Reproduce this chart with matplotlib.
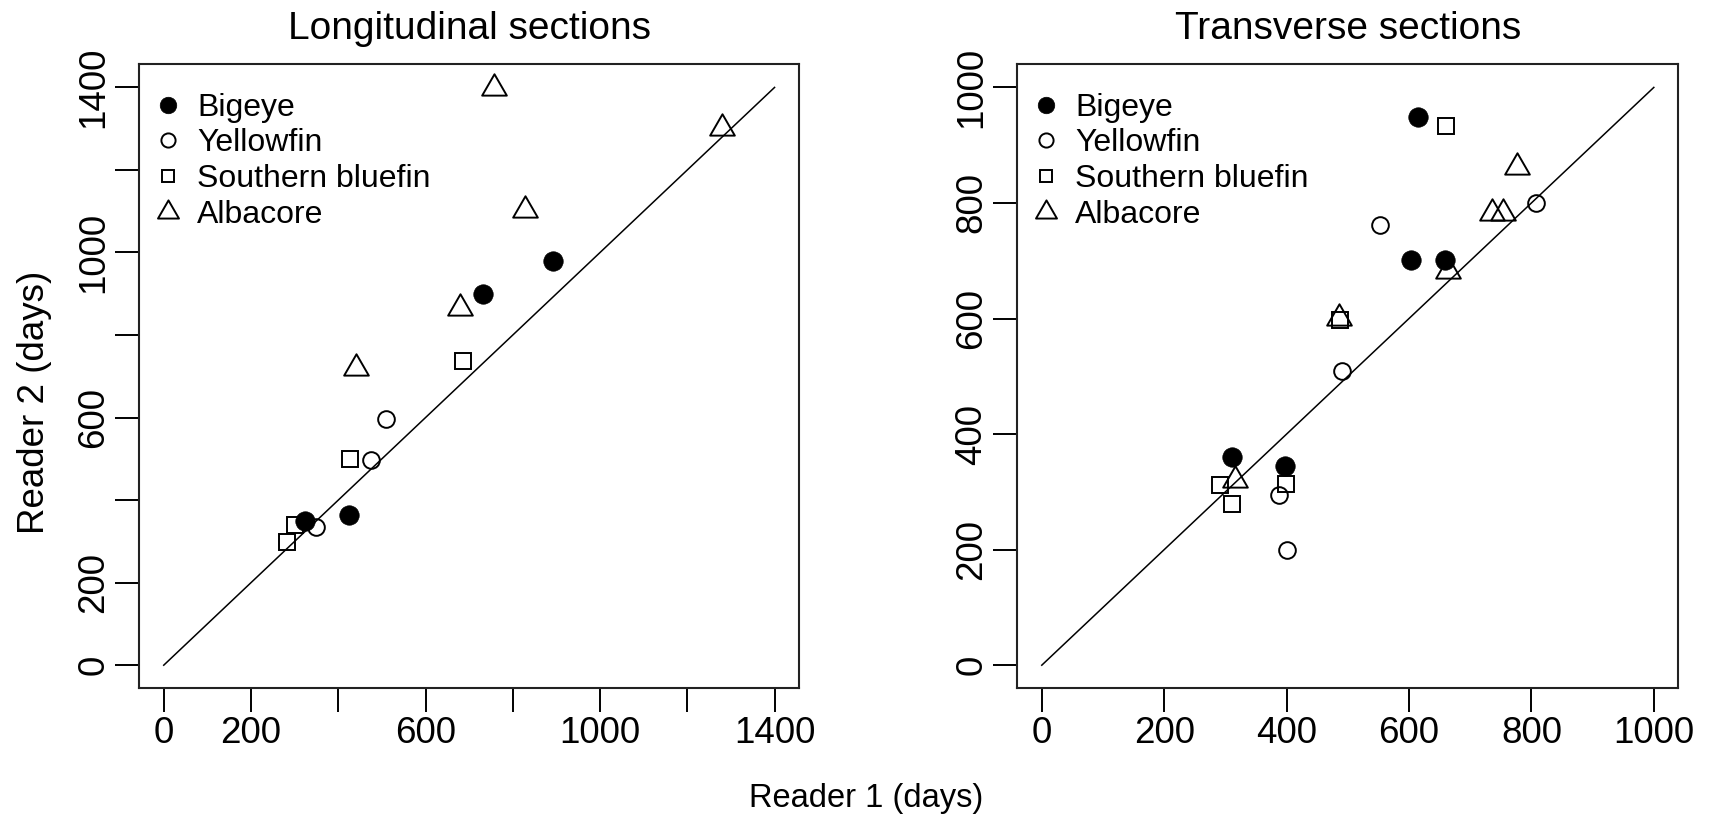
import matplotlib
matplotlib.use('Agg')
import matplotlib.pyplot as plt
from matplotlib.path import Path
from matplotlib.lines import Line2D

plt.rcParams['font.family'] = ['Liberation Sans', 'DejaVu Sans']

# ---------------- data ----------------
species = ['Bigeye', 'Yellowfin', 'Southern bluefin', 'Albacore']

titles = ['Longitudinal sections', 'Transverse sections']
xlabel = 'Reader 1 (days)'
ylabel = 'Reader 2 (days)'

# Longitudinal sections: Reader 1 vs Reader 2 (days)
long_bigeye_r1 = [323, 425, 732, 893]
long_bigeye_r2 = [349, 364, 899, 980]
long_yellowfin_r1 = [348, 476, 509]
long_yellowfin_r2 = [335, 497, 596]
long_sbt_r1 = [282, 302, 428, 686]
long_sbt_r2 = [299, 339, 499, 736]
long_alb_r1 = [441, 678, 758, 827, 1280]
long_alb_r2 = [721, 866, 1398, 1104, 1301]

# Transverse sections
trans_bigeye_r1 = [310, 397, 604, 659, 615]
trans_bigeye_r2 = [360, 344, 701, 701, 949]
trans_yellowfin_r1 = [388, 401, 491, 553, 807]
trans_yellowfin_r2 = [294, 200, 510, 762, 800]
trans_sbt_r1 = [292, 311, 399, 487, 660]
trans_sbt_r2 = [312, 279, 314, 598, 933]
trans_alb_r1 = [315, 485, 663, 735, 753, 776]
trans_alb_r2 = [321, 601, 682, 783, 783, 863]

long_max = 1400
trans_max = 1000
long_ticks = [0, 200, 400, 600, 800, 1000, 1200, 1400]
long_ticklabels = ['0', '200', '', '600', '', '1000', '', '1400']
trans_ticks = [0, 200, 400, 600, 800, 1000]
trans_ticklabels = ['0', '200', '400', '600', '800', '1000']

# ---------------- styling ----------------
tri = Path([(0, 0.577), (-0.5, -0.2887), (0.5, -0.2887), (0, 0.577)],
           [Path.MOVETO, Path.LINETO, Path.LINETO, Path.CLOSEPOLY])
styles = [
    dict(marker='o', markersize=14, markerfacecolor='black', markeredgecolor='black', markeredgewidth=0.5),
    dict(marker='o', markersize=12, markerfacecolor='none', markeredgecolor='black', markeredgewidth=1.4),
    dict(marker='s', markersize=11, markerfacecolor='none', markeredgecolor='black', markeredgewidth=1.4),
    dict(marker=tri, markersize=20.5, markerfacecolor='none', markeredgecolor='black', markeredgewidth=1.4),
]
legend_scale = 0.85

W, H = 1714, 822
fig = plt.figure(figsize=(W / 100, H / 100), dpi=100)

panels = [
    dict(rect=[139.3 / W, 1 - 688.3 / H, 659.7 / W, 624 / H], vmax=long_max,
         ticks=long_ticks, labels=long_ticklabels,
         data=[(long_bigeye_r1, long_bigeye_r2), (long_yellowfin_r1, long_yellowfin_r2),
               (long_sbt_r1, long_sbt_r2), (long_alb_r1, long_alb_r2)]),
    dict(rect=[1017.3 / W, 1 - 688.3 / H, 661 / W, 624 / H], vmax=trans_max,
         ticks=trans_ticks, labels=trans_ticklabels,
         data=[(trans_bigeye_r1, trans_bigeye_r2), (trans_yellowfin_r1, trans_yellowfin_r2),
               (trans_sbt_r1, trans_sbt_r2), (trans_alb_r1, trans_alb_r2)]),
]

for p, title in zip(panels, titles):
    ax = fig.add_axes(p['rect'])
    vmax = p['vmax']
    ext = 0.04 * vmax
    ax.set_xlim(-ext, vmax + ext)
    ax.set_ylim(-ext, vmax + ext)
    ax.plot([0, vmax], [0, vmax], color='black', lw=1.1, zorder=1)
    for (x, y), st in zip(p['data'], styles):
        ax.plot(x, y, linestyle='none', zorder=2, **st)
    ax.set_xticks(p['ticks'])
    ax.set_xticklabels(p['labels'])
    ax.set_yticks(p['ticks'])
    ax.set_yticklabels(p['labels'], rotation=90, va='center')
    ax.tick_params(axis='both', length=17, width=1.4, labelsize=26.5, color='black')
    ax.tick_params(axis='x', pad=3)
    ax.tick_params(axis='y', pad=3)
    for s in ax.spines.values():
        s.set_linewidth(1.5)
        s.set_color('#222222')
    ax.set_title(title, fontsize=28, pad=18)

    handles = []
    for st in styles:
        st2 = dict(st)
        st2['markersize'] = st['markersize'] * legend_scale
        handles.append(Line2D([], [], linestyle='none', **st2))
    ax.legend(handles, species, loc='upper left', bbox_to_anchor=(0.0197, 0.9545),
              frameon=False, borderpad=0, borderaxespad=0, handlelength=1.0,
              handletextpad=0.41, labelspacing=0.18, fontsize=23)

fig.text(866 / W, 1 - 798 / H, xlabel, ha='center', va='center', fontsize=23.5)
fig.text(35 / W, 1 - 402 / H, ylabel, ha='center', va='center', rotation=90, fontsize=26.5)

fig.savefig('out.png', dpi=100)
